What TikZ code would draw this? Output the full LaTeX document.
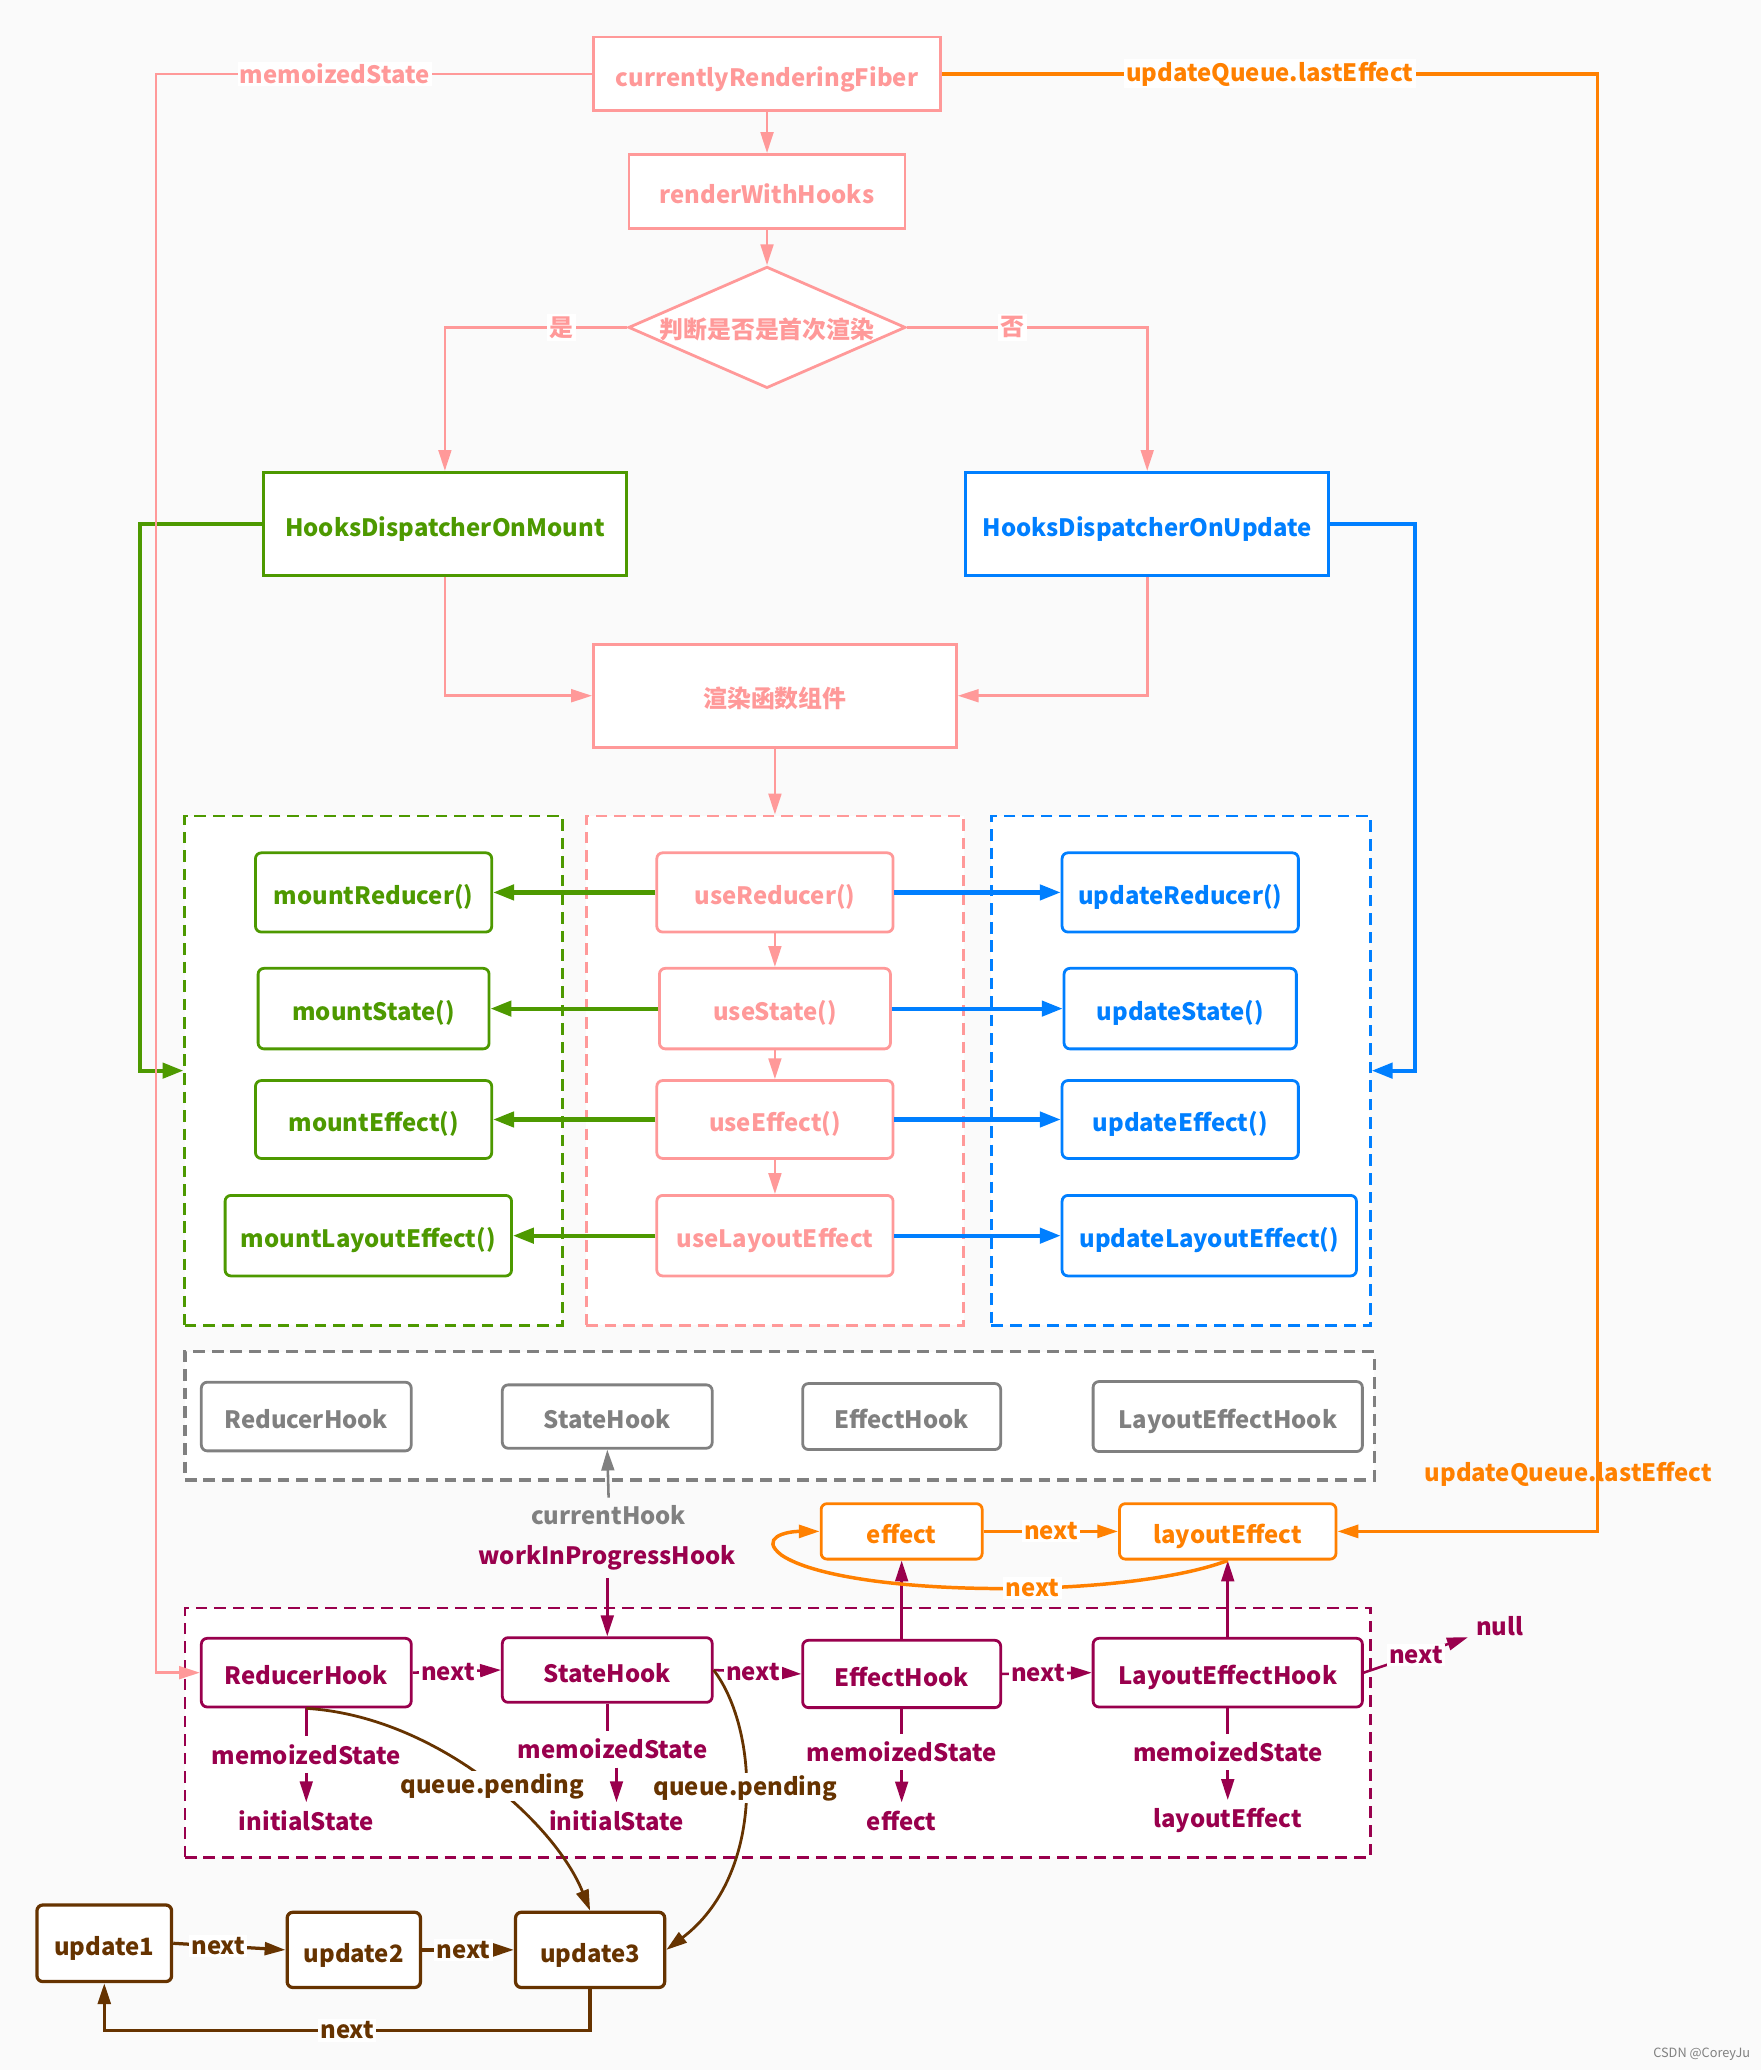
\documentclass[tikz,border=0pt]{standalone}
\usepackage{fontspec}
\setmainfont{Noto Sans CJK SC}
\usetikzlibrary{arrows.meta,shapes.geometric}
\definecolor{fpink}{RGB}{255,153,153}
\definecolor{forange}{RGB}{255,128,0}
\definecolor{fgreen}{RGB}{77,153,0}
\definecolor{fblue}{RGB}{0,127,255}
\definecolor{fpurple}{RGB}{153,0,77}
\definecolor{fbrown}{RGB}{102,51,0}
\definecolor{fgray}{RGB}{128,128,128}
\definecolor{fback}{RGB}{250,250,250}
\tikzset{
  tone/.style={draw=#1,text=#1},
  flow/.style={-{Triangle[length=9pt,width=5.5pt]},line width=1.1pt},
  thick flow/.style={-{Triangle[length=9pt,width=6.5pt]},line width=1.8pt},
  lbl/.style={fill=white,inner sep=1pt},
  basebox/.style={draw,fill=white,line width=1.2pt,inner sep=2pt,text height=10.5pt,text depth=0pt},
  dispbox/.style={basebox,line width=1.5pt,minimum width=5.5cm,minimum height=1.56cm},
  fnbox/.style={basebox,rounded corners=2.5pt,minimum width=3.58cm,minimum height=1.2cm},
  hookbox/.style={basebox,rounded corners=2.5pt,minimum width=3.18cm,minimum height=1.04cm},
  grpbox/.style={draw,fill=white,line width=1.2pt,dash pattern=on 5pt off 3pt,inner sep=0pt},
  updbox/.style={basebox,line width=1.4pt,rounded corners=2.5pt,minimum height=1.14cm},
}

\begin{document}
\begin{tikzpicture}[x=0.02cm,y=-0.02cm,font=\fontsize{10.3pt}{12pt}\selectfont\bfseries]
  \fill[fback] (0,0) rectangle (1334,1568);
  \useasboundingbox (0,0) rectangle (1334,1568);

  % render flow
  \node[basebox,tone=fpink,minimum width=5.26cm,minimum height=1.12cm] (fiber) at (581,56) {currentlyRenderingFiber};
  \node[basebox,tone=fpink,minimum width=4.18cm,minimum height=1.12cm] (render) at (581,145) {renderWithHooks};
  \node[draw,fill=white,tone=fpink,shape=diamond,aspect=2.3,line width=1.2pt,inner sep=0pt,text height=10pt,text depth=0pt,
        minimum width=4.2cm,minimum height=1.84cm] (judge) at (581,248) {判断是否是首次渲染};
  \node[dispbox,tone=fgreen] (mount) at (337,397) {HooksDispatcherOnMount};
  \node[dispbox,tone=fblue] (update) at (869,397) {HooksDispatcherOnUpdate};
  \node[basebox,tone=fpink,minimum width=5.5cm,minimum height=1.56cm] (comp) at (587,527) {渲染函数组件};

  % dispatcher groups
  \node[grpbox,tone=fgreen,minimum width=5.72cm,minimum height=7.72cm] (mountgrp) at (283,811) {};
  \node[grpbox,tone=fpink,minimum width=5.72cm,minimum height=7.72cm] (usegrp) at (587,811) {};
  \node[grpbox,tone=fblue,minimum width=5.74cm,minimum height=7.72cm] (updategrp) at (894.5,811) {};

  \node[fnbox,tone=fgreen] (mr) at (283,676) {mountReducer()};
  \node[fnbox,tone=fgreen,minimum width=3.5cm,minimum height=1.22cm] (ms) at (283,764) {mountState()};
  \node[fnbox,tone=fgreen,minimum height=1.18cm] (me) at (283,848) {mountEffect()};
  \node[fnbox,tone=fgreen,minimum width=4.34cm,minimum height=1.22cm] (ml) at (279,936) {mountLayoutEffect()};

  \node[fnbox,tone=fpink] (ur) at (587,676) {useReducer()};
  \node[fnbox,tone=fpink,minimum width=3.5cm,minimum height=1.22cm] (us) at (587,764) {useState()};
  \node[fnbox,tone=fpink,minimum height=1.18cm] (ue) at (587,848) {useEffect()};
  \node[fnbox,tone=fpink,minimum height=1.22cm] (ul) at (587,936) {useLayoutEffect};

  \node[fnbox,tone=fblue] (upr) at (894,676) {updateReducer()};
  \node[fnbox,tone=fblue,minimum width=3.52cm,minimum height=1.22cm] (ups) at (894,764) {updateState()};
  \node[fnbox,tone=fblue,minimum height=1.18cm] (upe) at (894,848) {updateEffect()};
  \node[fnbox,tone=fblue,minimum width=4.46cm,minimum height=1.22cm] (upl) at (916,936) {updateLayoutEffect()};

  % current hooks
  \node[grpbox,tone=fgray,line width=1.4pt,minimum width=18.02cm,minimum height=1.94cm] (curgrp) at (590.5,1072.5) {};
  \node[hookbox,tone=fgray] (grh) at (232,1073) {ReducerHook};
  \node[hookbox,tone=fgray,minimum height=0.96cm] (gsh) at (460,1073) {StateHook};
  \node[hookbox,tone=fgray,minimum width=3cm,minimum height=1cm] (geh) at (683,1073) {EffectHook};
  \node[hookbox,tone=fgray,minimum width=4.08cm,minimum height=1.06cm] (glh) at (930,1073) {LayoutEffectHook};
  \node[text=fgray] (curhook) at (461,1148) {currentHook};
  \node[text=fpurple] (wip) at (460,1180) {workInProgressHook};

  % work in progress hooks
  \node[grpbox,tone=fpurple,minimum width=17.96cm,minimum height=3.78cm] (wipgrp) at (589,1312.5) {};
  \node[hookbox,tone=fpurple] (prh) at (232,1267) {ReducerHook};
  \node[hookbox,tone=fpurple,minimum height=0.98cm] (psh) at (460,1265) {StateHook};
  \node[hookbox,tone=fpurple,minimum width=3cm,minimum height=1.02cm] (peh) at (683,1268) {EffectHook};
  \node[hookbox,tone=fpurple,minimum width=4.08cm] (plh) at (930,1267) {LayoutEffectHook};
  \node[text=fpurple] (null) at (1136,1232) {null};

  \node[text=fpurple] (rmemo) at (232,1329) {memoizedState};
  \node[text=fpurple] (rval) at (232,1379) {initialState};
  \node[text=fpurple] (smemo) at (464,1325) {memoizedState};
  \node[text=fpurple] (sval) at (467,1379) {initialState};
  \node[text=fpurple] (ememo) at (683,1327) {memoizedState};
  \node[text=fpurple] (efval) at (683,1379) {effect};
  \node[text=fpurple] (lmemo) at (930,1327) {memoizedState};
  \node[text=fpurple] (lval) at (930,1379) {layoutEffect};

  % effect list
  \node[basebox,tone=forange,rounded corners=2.5pt,minimum width=2.44cm,minimum height=0.84cm] (oeff) at (683,1160) {effect};
  \node[basebox,tone=forange,rounded corners=2.5pt,minimum width=3.28cm,minimum height=0.84cm] (olay) at (930,1160) {layoutEffect};
  \node[text=forange] (lastlbl) at (1188,1117) {updateQueue.lastEffect};

  % update queue
  \node[updbox,tone=fbrown,minimum width=2.04cm,minimum height=1.16cm] (u1) at (79,1472) {update1};
  \node[updbox,tone=fbrown,minimum width=2.02cm] (u2) at (268,1477) {update2};
  \node[updbox,tone=fbrown,minimum width=2.26cm] (u3) at (447,1477) {update3};
  \coordinate (ubase) at (0,1538);

  \node[text=fgray,font=\fontsize{5.5pt}{6pt}\selectfont] (mark) at (1289,1556) {CSDN @CoreyJu};

  % connectors
  \coordinate (mturn) at (118,56);
  \coordinate (qturn) at (1210,56);
  \coordinate (gturn) at (106,397);
  \coordinate (bturn) at (1072,397);

  \draw[flow,fpink] (fiber) -- (render);
  \draw[flow,fpink] (render) -- (judge);
  \draw[flow,fpink] (judge.west) -| node[lbl,pos=0.18] {是} (mount.north);
  \draw[flow,fpink] (judge.east) -| node[lbl,pos=0.22] {否} (update.north);
  \draw[flow,fpink] (mount.south) |- (comp.west);
  \draw[flow,fpink] (update.south) |- (comp.east);
  \draw[flow,fpink] (comp.south) -- (usegrp.north);
  \draw[thick flow,fgreen] (mount.west) -- (gturn) |- (mountgrp.west);
  \draw[thick flow,fblue] (update.east) -- (bturn) |- (updategrp.east);
  \draw[flow,fpink] (fiber.west) -- node[lbl,pos=0.59] {memoizedState} (mturn) |- (prh.west);
  \draw[flow,forange,line width=1.5pt] (fiber.east) -- node[lbl] {updateQueue.lastEffect} (qturn) |- (olay.east);

  \draw[thick flow,fgreen] (ur.west) -- (mr.east);
  \draw[thick flow,fgreen] (us.west) -- (ms.east);
  \draw[thick flow,fgreen] (ue.west) -- (me.east);
  \draw[thick flow,fgreen] (ul.west) -- (ml.east);
  \draw[thick flow,fblue] (ur.east) -- (upr.west);
  \draw[thick flow,fblue] (us.east) -- (ups.west);
  \draw[thick flow,fblue] (ue.east) -- (upe.west);
  \draw[thick flow,fblue] (ul.east) -- (upl.west);
  \draw[flow,fpink] (ur.south) -- (us.north);
  \draw[flow,fpink] (us.south) -- (ue.north);
  \draw[flow,fpink] (ue.south) -- (ul.north);

  \draw[flow,fgray] (curhook.north) -- (gsh.south);
  \draw[flow,fpurple] (wip.south) -- (psh.north);
  \draw[flow,fpurple] (prh.east) -- node[lbl,pos=0.4] {next} (psh.west);
  \draw[flow,fpurple] (psh.east) -- node[lbl,pos=0.45] {next} (peh.west);
  \draw[flow,fpurple] (peh.east) -- node[lbl,pos=0.4] {next} (plh.west);
  \draw[flow,fpurple] (plh.east) -- node[lbl] {next} (null);

  \draw[fpurple,line width=1.1pt] (prh.south) -- (rmemo.north);
  \draw[flow,fpurple] (rmemo.south) -- (rval.north);
  \draw[fpurple,line width=1.1pt] (psh.south) -- (psh.south |- smemo.north);
  \draw[flow,fpurple] (smemo.south -| sval) -- (sval.north);
  \draw[fpurple,line width=1.1pt] (peh.south) -- (ememo.north);
  \draw[flow,fpurple] (ememo.south) -- (efval.north);
  \draw[fpurple,line width=1.1pt] (plh.south) -- (lmemo.north);
  \draw[flow,fpurple] (lmemo.south) -- (lval.north);

  \draw[flow,fpurple] (peh.north) -- (oeff.south);
  \draw[flow,fpurple] (plh.north) -- (olay.south);
  \draw[flow,forange,line width=1.5pt] (oeff.east) -- node[lbl] {next} (olay.west);
  \draw[flow,forange,line width=1.5pt] (olay.south) .. controls (850,1212) and (640,1210) .. node[lbl,pos=0.42] {next} (592,1178)
    .. controls (575,1165) and (595,1160) .. (oeff.west);

  \draw[flow,fbrown,line width=1.4pt] (u1.east) -- node[lbl,pos=0.4] {next} (u2.west);
  \draw[flow,fbrown,line width=1.4pt] (u2.east) -- node[lbl,pos=0.45] {next} (u3.west);
  \draw[flow,fbrown,line width=1.4pt] (u3.south) |- node[lbl,pos=0.75] {next} (u1.south |- ubase) -- (u1.south);
  \draw[flow,fbrown,line width=1.2pt] (prh.south) .. controls (330,1300) and (420,1380) .. node[lbl,pos=0.53] {queue.pending} (u3.north);
  \draw[flow,fbrown,line width=1.2pt] (psh.east) .. controls (575,1310) and (580,1420) .. node[lbl,pos=0.45] {queue.pending} (u3.east);
\end{tikzpicture}
\end{document}
